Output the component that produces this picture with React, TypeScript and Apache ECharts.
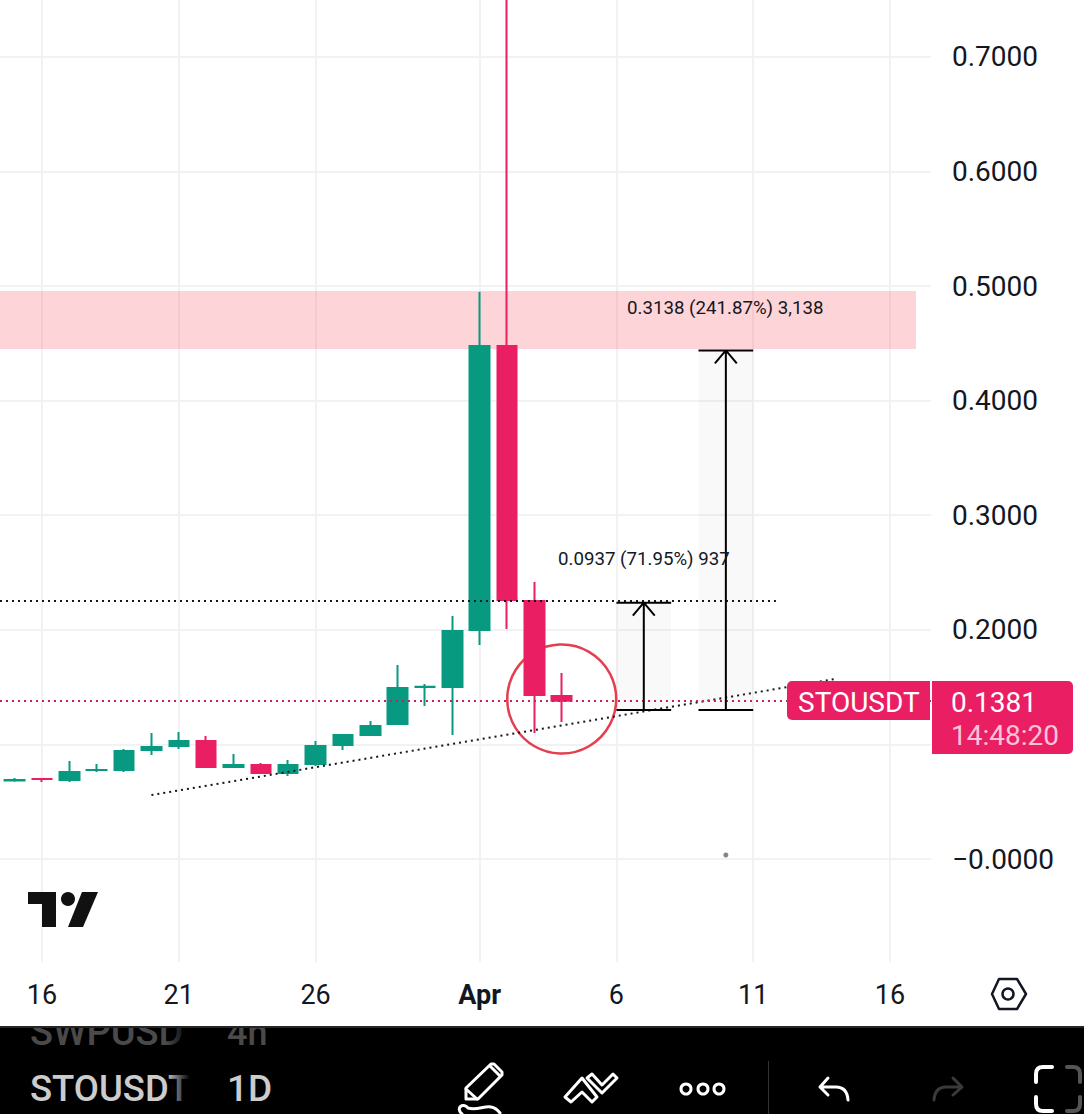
import React, { useEffect, useRef } from "react";
import * as echarts from "echarts";

const FONT = "Roboto";
const INK = "#131722";
const UP = "#089981";
const DOWN = "#E91E63";

const categories = [
  "Mar 14","Mar 15","Mar 16","Mar 17","Mar 18","Mar 19","Mar 20","Mar 21","Mar 22","Mar 23","Mar 24","Mar 25",
  "Mar 26","Mar 27","Mar 28","Mar 29","Mar 30","Mar 31","Apr 1","Apr 2","Apr 3","Apr 4","Apr 5","Apr 6","Apr 7",
  "Apr 8","Apr 9","Apr 10","Apr 11","Apr 12","Apr 13","Apr 14","Apr 15","Apr 16","Apr 17",
];
const timeTicks: Record<string, string> = {
  "Mar 16": "16", "Mar 21": "21", "Mar 26": "26", "Apr 1": "{b|Apr}", "Apr 6": "6", "Apr 11": "11", "Apr 16": "16",
};
const priceTicks = [0, 0.1, 0.2, 0.3, 0.4, 0.5, 0.6, 0.7];

const opens  = [0.0683,0.0684,0.0699,0.0690,0.0776,0.0777,0.0951,0.0986,0.1029,0.0803,0.0820,0.0751,0.0829,0.0995,0.1082,0.1178,0.1500,0.1501,0.1999,0.4476,0.2251,0.1422];
const closes = [0.0685,0.0689,0.0697,0.0759,0.0777,0.0942,0.0977,0.1029,0.0803,0.0820,0.0751,0.0820,0.0986,0.1082,0.1160,0.1492,0.1502,0.1989,0.4476,0.2260,0.1431,0.1381];
const lows   = [0.0675,0.0675,0.0672,0.0672,0.0759,0.0759,0.0908,0.0960,0.0794,0.0794,0.0742,0.0724,0.0812,0.0951,0.1073,0.1169,0.1335,0.1082,0.1867,0.2007,0.1099,0.1195];
const highs  = [0.0695,0.0707,0.0707,0.0855,0.0829,0.0960,0.1100,0.1108,0.1073,0.0916,0.0838,0.0864,0.1030,0.1091,0.1204,0.1693,0.1527,0.2120,0.4948,0.8000,0.2417,0.1623];

// Drawing-tool anchors, in chart units: [day index, price]
const priceLineLevel = 0.1379;
const supplyZoneDays = [-0.5, 33.95];
const supplyZonePrices = [0.445, 0.4956];
const resistanceLine = [[-0.414, 0.2251], [28.83, 0.2251]];
const trendLine = [[6, 0.0558], [31, 0.1571]];
const priceLine = [[-0.414, priceLineLevel], [34.5, priceLineLevel]];
const circleMark = [[21, 0.1396]];
const strayDot = [[27, 0.0035]];
const rangeBase = 0.13;
const rangeATop = 0.2237;
const rangeBTop = 0.4438;
const rangeADays = [23, 24, 25];
const rangeBDays = [26, 27, 28];
const chevronDx = 0.4;
const chevronDy = 0.0113;

const lineS = (name: string, data: any[], color: string, width: number, type: any, z: number) => ({
  type: "line", name, xAxisIndex: 1, yAxisIndex: 0, data, symbol: "none", showSymbol: false, silent: true, z,
  lineStyle: { color, width, type, cap: "butt" },
});

const rangeLines = (days: number[], top: number) => [
  [days[0], top], [days[2], top], null,
  [days[0], rangeBase], [days[2], rangeBase], null,
  [days[1], rangeBase], [days[1], top], null,
  [days[1] - chevronDx, top - chevronDy], [days[1], top], [days[1] + chevronDx, top - chevronDy],
];

const stroke = (color: string, lineWidth: number) => ({ fill: "none", stroke: color, lineWidth, lineJoin: "round", lineCap: "round" });
const txt = (text: string, x: number, y: number, fontSize: number, fill: string, extra: any = {}, z = 100) => ({
  type: "text", x, y, z, silent: true,
  style: { text, fontFamily: FONT, fontSize, fill, verticalAlign: "middle", align: "left", ...extra },
});
const rect = (x: number, y: number, width: number, height: number, fill: any, r: any = 0, z = 100) => ({
  type: "rect", z, silent: true, shape: { x, y, width, height, r }, style: { fill },
});
const poly = (points: number[][], style: any, closed = true) => ({
  type: closed ? "polygon" : "polyline", z: 100, silent: true, shape: { points }, style,
});
const fade = () => new echarts.graphic.LinearGradient(0, 0, 1, 0, [
  { offset: 0, color: "rgba(0,0,0,0)" }, { offset: 1, color: "rgba(0,0,0,1)" },
]);

export default function App() {
  const ref = useRef<HTMLDivElement>(null);
  useEffect(() => {
    echarts.graphic.registerShape("squiggle", echarts.graphic.extendPath("M462,1114 C455,1108 463,1102 468,1108 C480,1112 490,1100 500,1113", {}));
    echarts.graphic.registerShape("undoArrow", echarts.graphic.extendPath("M828,1078 L820,1087 L828,1095 M820,1087 L836,1087 Q847,1087 848,1100", {}));
    echarts.graphic.registerShape("redoArrow", echarts.graphic.extendPath("M953,1078 L962,1087 L953,1095 M962,1087 L946,1087 Q935,1087 934,1100", {}));
    echarts.graphic.registerShape("cornerL", echarts.graphic.extendPath("M1052,1067 L1043,1067 Q1036,1067 1036,1074 L1036,1082 M1036,1097 L1036,1104 Q1036,1111 1043,1111 L1052,1111", {}));
    echarts.graphic.registerShape("cornerR", echarts.graphic.extendPath("M1067,1067 L1073,1067 Q1080,1067 1080,1074 L1080,1082 M1080,1097 L1080,1104 Q1080,1111 1073,1111 L1067,1111", {}));

    const chart = echarts.init(ref.current!, null, { renderer: "svg" });
    chart.setOption({
      animation: false,
      backgroundColor: "#ffffff",
      grid: { left: -26.36, width: 957.36, top: 0, height: 962, containLabel: false, outerBoundsMode: "none" },
      xAxis: [
        {
          type: "category", data: categories, boundaryGap: true, position: "bottom",
          axisLine: { show: false }, axisTick: { show: false }, splitLine: { show: false },
          axisLabel: {
            interval: (_: number, v: string) => v in timeTicks,
            formatter: (v: string) => timeTicks[v] ?? "",
            margin: 19, fontFamily: FONT, fontSize: 27, color: INK,
            rich: { b: { fontFamily: FONT, fontSize: 27, fontWeight: "bold", color: INK } },
          },
        },
        { type: "value", min: -0.5, max: 34.5, show: false },
      ],
      yAxis: {
        type: "value", position: "right", min: (859 - 962) / 1146, max: 859 / 1146, scale: true,
        axisLine: { show: false }, axisTick: { show: false }, splitLine: { show: false },
        axisLabel: {
          customValues: priceTicks, margin: 21, align: "left", fontFamily: FONT, fontSize: 28, color: INK,
          padding: [2, 0, 0, 0],
          formatter: (v: number) => (v === 0 ? "\u22120.0000" : v.toFixed(4)),
        },
      },
      series: [
        {
          type: "line", name: "grid", xAxisIndex: 0, yAxisIndex: 0, data: [], z: 1, silent: true,
          markLine: {
            silent: true, z: 1, symbol: "none", label: { show: false },
            lineStyle: { color: "#f2f2f4", width: 2, type: "solid" },
            data: [
              ...Object.keys(timeTicks).map((c) => ({ xAxis: c })),
              ...priceTicks.map((p) => ({ yAxis: p })),
            ],
          },
        },
        {
          type: "line", name: "zones", xAxisIndex: 1, yAxisIndex: 0, data: [], z: 2, silent: true,
          markArea: {
            silent: true, z: 2, label: { show: false },
            data: [
              [
                { xAxis: supplyZoneDays[0], yAxis: supplyZonePrices[1], itemStyle: { color: "rgba(247,82,95,0.25)" } },
                { xAxis: supplyZoneDays[1], yAxis: supplyZonePrices[0] },
              ],
              [
                { xAxis: rangeADays[0], yAxis: rangeATop, itemStyle: { color: "rgba(0,0,0,0.025)" } },
                { xAxis: rangeADays[2], yAxis: rangeBase },
              ],
              [
                { xAxis: rangeBDays[0], yAxis: rangeBTop, itemStyle: { color: "rgba(0,0,0,0.025)" } },
                { xAxis: rangeBDays[2], yAxis: rangeBase },
              ],
            ],
          },
        },
        {
          type: "scatter", name: "circle", xAxisIndex: 1, yAxisIndex: 0, data: circleMark, symbol: "circle", symbolSize: 109, z: 2, silent: true,
          itemStyle: { color: "rgba(0,0,0,0)", borderColor: "#e53e4f", borderWidth: 2.5, opacity: 1 },
        },
        {
          type: "candlestick", name: "STOUSDT", xAxisIndex: 0, yAxisIndex: 0, z: 3, silent: true, barWidth: 20,
          data: opens.map((o, i) => [o, closes[i], lows[i], highs[i]]),
          itemStyle: { color: UP, color0: DOWN, borderColor: UP, borderColor0: DOWN, borderWidth: 2 },
        },
        lineS("resistance", resistanceLine, INK, 2, [2, 4], 4),
        lineS("trend", trendLine, INK, 2, [2, 4], 4),
        lineS("price", priceLine, "#c9205f", 2, [2, 4], 4),
        lineS("rangeA", rangeLines(rangeADays, rangeATop), "#000000", 2, "solid", 5),
        lineS("rangeB", rangeLines(rangeBDays, rangeBTop), "#000000", 2, "solid", 5),
        {
          type: "scatter", name: "dot", xAxisIndex: 1, yAxisIndex: 0, data: strayDot, symbolSize: 5, z: 5, silent: true,
          itemStyle: { color: "#666666" },
        },
      ],
      graphic: [
        // measure tool captions
        txt("0.3138 (241.87%) 3,138", 627, 308, 18.7, INK),
        txt("0.0937 (71.95%) 937", 558, 559, 18.7, INK),
        // logo
        poly([[28, 892], [56, 892], [56, 927], [42, 927], [42, 904], [28, 904]], { fill: "#111111" }),
        { type: "circle", z: 100, silent: true, shape: { cx: 68, cy: 899, r: 7 }, style: { fill: "#111111" } },
        poly([[82, 892], [98, 892], [83, 927], [68, 927]], { fill: "#111111" }),
        // price tags
        rect(787, 681, 143, 39, DOWN, [5, 0, 0, 5]),
        rect(932, 681, 141, 73, DOWN, [0, 5, 5, 0]),
        txt("STOUSDT", 798, 702, 28, "#ffffff"),
        txt("0.1381", 951, 702, 28, "#ffffff"),
        txt("14:48:20", 951, 735, 28, "#fbc3d7"),
        // settings icon
        poly([[992, 994], [999, 979], [1017, 979], [1026, 994], [1017, 1009], [999, 1009]], stroke(INK, 2.5)),
        { type: "circle", z: 100, silent: true, shape: { cx: 1008, cy: 994, r: 5.5 }, style: stroke(INK, 2.5) },
        // bottom toolbar
        rect(0, 1026, 1084, 88, "#000000"),
        txt("SWPUSD", 30, 1032, 38, "#4a4a4a", { fontWeight: 500 }),
        txt("4h", 227, 1033, 36, "#4a4a4a", { fontWeight: 500 }),
        rect(0, 1012, 1084, 14, "#ffffff"),
        rect(0, 1026, 1084, 2, "#262626"),
        txt("STOUSDT", 30, 1088, 36.5, "#cccccc", { fontWeight: 500 }),
        txt("1D", 227, 1088, 37, "#cccccc", { fontWeight: 500 }),
        rect(166, 1028, 24, 86, fade()),
        rect(190, 1028, 30, 86, "#000000"),
        poly([[466, 1099], [466, 1088], [491, 1064], [494, 1064], [502, 1072], [502, 1075], [478, 1099]], stroke("#ffffff", 3)),
        poly([[466, 1089], [477, 1099]], stroke("#ffffff", 3), false),
        poly([[490, 1066], [500, 1076]], stroke("#ffffff", 3), false),
        { type: "squiggle", z: 100, silent: true, x: 0, y: 0, style: stroke("#ffffff", 3) },
        poly([[565, 1097], [582, 1078], [597, 1097], [592, 1102], [582, 1092], [571, 1102]], stroke("#ffffff", 3)),
        poly([[587, 1078], [592, 1074], [602, 1085], [613, 1074], [617, 1078], [602, 1093]], stroke("#ffffff", 3)),
        ...[686, 703, 719].map((cx) => ({ type: "circle", z: 100, silent: true, shape: { cx, cy: 1089, r: 5 }, style: stroke("#ffffff", 3) })),
        rect(768, 1061, 1, 53, "#333333"),
        { type: "undoArrow", z: 100, silent: true, x: 0, y: 0, style: stroke("#ffffff", 3) },
        { type: "redoArrow", z: 100, silent: true, x: 0, y: 0, style: stroke("#3a3a3a", 3) },
        { type: "cornerL", z: 100, silent: true, x: 0, y: 0, style: stroke("#ffffff", 4) },
        { type: "cornerR", z: 100, silent: true, x: 0, y: 0, style: stroke("#555555", 4) },
      ],
    });
    return () => chart.dispose();
  }, []);
  return <div ref={ref} style={{ position: "fixed", left: 0, top: 0, width: 1084, height: 1114 }} />;
}
